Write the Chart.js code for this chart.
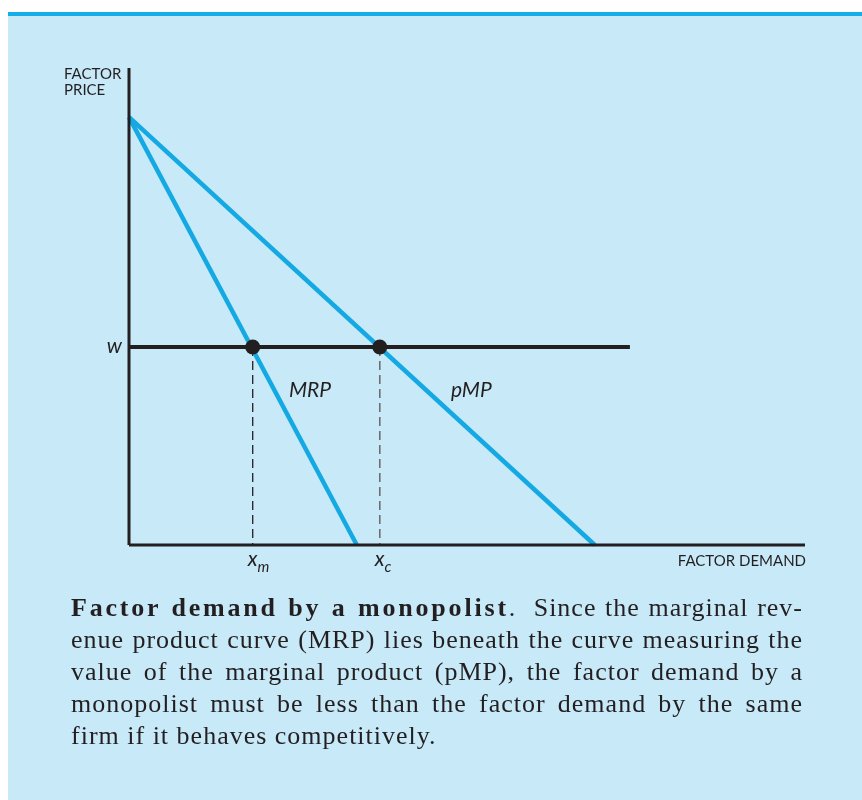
<!DOCTYPE html>
<html>
<head>
<meta charset="utf-8">
<script src="https://cdn.jsdelivr.net/npm/chart.js@4"></script>
<style>
  body { margin: 0; background: #ffffff; width: 862px; height: 800px; overflow: hidden; position: relative; }
  #panel { position: absolute; left: 8px; top: 16px; width: 854px; height: 784px; background: #c7e9f8; }
  #topbar { position: absolute; left: 8px; top: 12px; width: 854px; height: 4px; background: #15aee9; }
  #chart { position: absolute; left: 0; top: 0; }
  #caption { position: absolute; left: 71px; top: 592px; width: 732px; font-family: "Liberation Serif", serif; font-size: 26px; color: #231f20; letter-spacing: 1px; }
  #caption div { height: 32px; line-height: 32px; text-align: justify; text-align-last: justify; }
  #caption div.last { text-align: left; text-align-last: left; }
  #caption b { letter-spacing: 2.8px; }
</style>
</head>
<body>
<div id="topbar"></div>
<div id="panel"></div>
<canvas id="chart" width="862" height="600"></canvas>
<div id="caption">
  <div><b>Factor demand by a monopolist</b>.&nbsp;&nbsp;Since the marginal rev-</div>
  <div>enue product curve (MRP) lies beneath the curve measuring the</div>
  <div>value of the marginal product (pMP), the factor demand by a</div>
  <div>monopolist must be less than the factor demand by the same</div>
  <div class="last">firm if it behaves competitively.</div>
</div>
<script>
// axis extents (data units)
var axisX = [0, 100];
var axisY = [0, 100];

// marginal revenue product and value of marginal product curves
var mrpX = [0, 33.7];
var mrpY = [89.7, 0];
var pmpX = [0, 68.9];
var pmpY = [89.7, 0];

// factor price w
var wage = 41.5;
var wageX = [0, 74.1];

// factor demand: monopolist (x_m) and competitive (x_c)
var demandX = [18.3, 37.1];
var demandSub = ["m", "c"];

var ink = "#231f20";
var blue = "#14a9e3";

function pts(xs, ys) {
  var out = [];
  for (var i = 0; i < xs.length; i++) out.push({x: xs[i], y: ys[i]});
  return out;
}

// listed bottom layer first; order makes later ones draw on top
var datasets = [
  {data: pts([demandX[0], demandX[0]], [wage, 0]), borderColor: ink, borderWidth: 1.3, borderDash: [9, 5]},
  {data: pts([demandX[1], demandX[1]], [wage, 0]), borderColor: "#6d6e70", borderWidth: 1.6, borderDash: [9, 5]},
  {data: pts(mrpX, mrpY), borderColor: blue, borderWidth: 4.5},
  {data: pts(pmpX, pmpY), borderColor: blue, borderWidth: 4.5},
  {data: pts(wageX, [wage, wage]), borderColor: ink, borderWidth: 4},
  {data: pts([0, 0], axisY), borderColor: ink, borderWidth: 3},
  {data: pts(axisX, [0, 0]), borderColor: ink, borderWidth: 3},
  {data: pts(demandX, [wage, wage]), showLine: false, pointRadius: 7.5, pointBackgroundColor: ink, pointBorderColor: ink, pointBorderWidth: 0}
];
datasets.forEach(function (d, i) {
  if (d.showLine === undefined) d.showLine = true;
  if (d.pointRadius === undefined) d.pointRadius = 0;
  d.order = datasets.length - i;
  d.clip = false;
  d.fill = false;
});

var labelPlugin = {
  id: "labels",
  afterDatasetsDraw: function (chart) {
    var ctx = chart.ctx;
    var xs = chart.scales.x, ys = chart.scales.y;
    var x0 = xs.getPixelForValue(0), y0 = ys.getPixelForValue(0);
    ctx.save();
    ctx.fillStyle = ink;
    ctx.textBaseline = "alphabetic";

    // axis titles
    ctx.font = "15px Lato";
    ctx.textAlign = "left";
    ctx.fillText("FACTOR", x0 - 65, 79);
    ctx.fillText("PRICE", x0 - 65, 95);
    ctx.textAlign = "right";
    ctx.fillText("FACTOR DEMAND", xs.getPixelForValue(axisX[1]) + 1, y0 + 21);

    // w
    ctx.font = "italic 21px Lato";
    ctx.fillText("w", x0 - 7, ys.getPixelForValue(wage) + 6);

    // x_m, x_c
    ctx.textAlign = "left";
    for (var i = 0; i < demandX.length; i++) {
      var px = xs.getPixelForValue(demandX[i]);
      ctx.font = "italic 21px Lato";
      ctx.fillText("x", px - 5, y0 + 21);
      var w = ctx.measureText("x").width;
      ctx.font = "italic 15px Lato";
      ctx.fillText(demandSub[i], px - 5 + w, y0 + 27);
    }

    // curve names
    ctx.font = "italic 21px Lato";
    ctx.fillText("MRP", 289, ys.getPixelForValue(wage) + 50);
    ctx.fillText("pMP", 451, ys.getPixelForValue(wage) + 50);
    ctx.restore();
  }
};

new Chart(document.getElementById("chart").getContext("2d"), {
  type: "scatter",
  data: {datasets: datasets},
  options: {
    responsive: false,
    animation: false,
    devicePixelRatio: 1,
    layout: {padding: {left: 129, right: 57, top: 68, bottom: 55}},
    plugins: {legend: {display: false}, tooltip: {enabled: false}},
    scales: {
      x: {type: "linear", min: axisX[0], max: axisX[1], display: false},
      y: {type: "linear", min: axisY[0], max: axisY[1], display: false}
    }
  },
  plugins: [labelPlugin]
});
</script>
</body>
</html>
